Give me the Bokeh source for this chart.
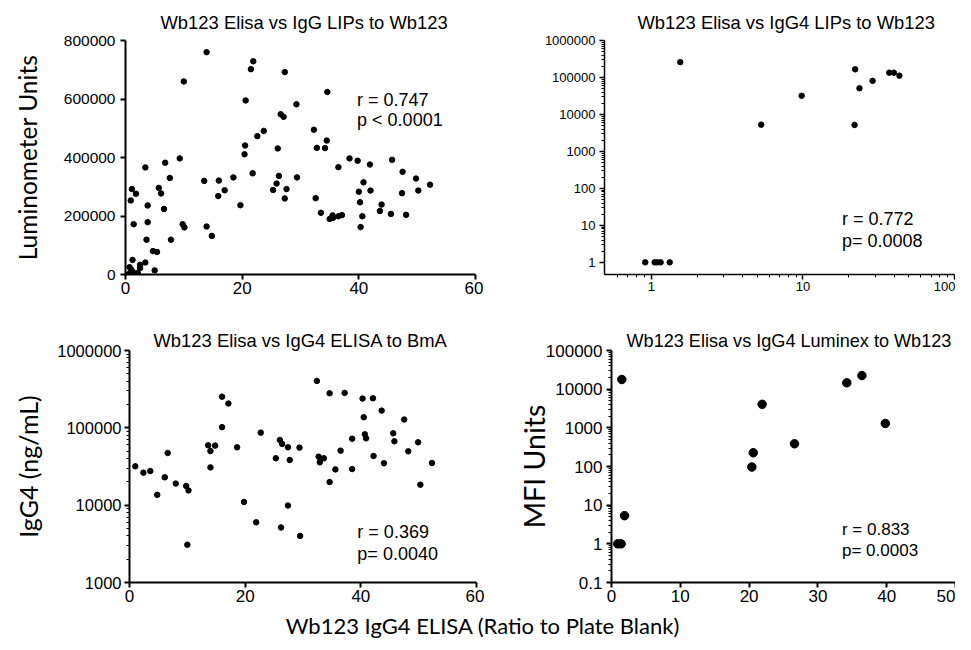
from bokeh.plotting import figure
from bokeh.models import (Range1d, FixedTicker, BasicTickFormatter, CustomJSTickFormatter,
                          Label, Title, Div)
from bokeh.layouts import column, row
from bokeh.embed import file_html
from bokeh.resources import INLINE

# ---------------- data ----------------
# Panel A: Wb123 Elisa vs IgG LIPs to Wb123 (linear)
a_x = [13.9, 21.9, 21.5, 27.3, 10.0, 34.6, 20.6, 29.3, 26.6, 27.1,
       32.3, 23.7, 22.6, 34.5, 20.5, 26.1, 32.8, 34.2, 20.4, 9.3,
       38.4, 39.8, 45.7, 3.4, 6.8, 36.5, 41.9, 7.6, 21.8, 29.4,
       26.3, 18.5, 13.5, 16.0, 47.5, 49.8, 25.9, 5.7, 1.1, 1.8,
       6.1, 0.9, 3.8, 6.6, 17.0, 15.9, 25.3, 27.6, 27.3, 19.7,
       32.6, 33.5, 35.0, 35.5, 35.6, 36.5, 37.1, 40.0, 40.2, 40.8,
       40.6, 40.3, 42.0, 43.9, 43.6, 45.5, 47.4, 48.1, 50.2, 52.2,
       1.4, 3.8, 9.8, 10.1, 13.9, 14.8, 3.6, 7.8, 4.7, 5.4,
       1.2, 3.4, 5.0, 2.5, 2.5, 0.7, 1.0, 1.3, 0.6, 1.6,
       2.1, 1.0, 1.9]
a_y = [760000, 729000, 702000, 692000, 660000, 624000, 595000, 582000, 548000, 539000,
       495000, 491000, 473000, 458000, 441000, 431000, 433000, 432000, 411000, 397000,
       397000, 389000, 392000, 366000, 382000, 367000, 376000, 330000, 346000, 332000,
       337000, 332000, 320000, 321000, 351000, 328000, 311000, 296000, 292000, 276000,
       277000, 253000, 236000, 224000, 288000, 268000, 289000, 292000, 260000, 237000,
       261000, 211000, 190000, 202000, 194000, 199000, 203000, 283000, 247000, 315000,
       199000, 162000, 287000, 239000, 217000, 207000, 278000, 204000, 287000, 307000,
       172000, 179000, 172000, 161000, 164000, 132000, 119000, 119000, 80000, 77000,
       50000, 41000, 14000, 33000, 22000, 25000, 16000, 8000, 2000, 2000,
       5000, 0, 0]

# Panel B: Wb123 Elisa vs IgG4 LIPs to Wb123 (log-log)
b_x = [0.91, 1.05, 1.09, 1.15, 1.32, 1.55, 5.3, 9.8, 22.1, 21.9, 23.6, 28.8, 37.1, 39.8, 43.3]
b_y = [1, 1, 1, 1, 1, 260000, 5300, 32000, 166000, 5200, 51000, 81000, 135000, 135000, 112000]

# Panel C: Wb123 Elisa vs IgG4 ELISA to BmA (log y)
c_x = [1.0, 2.4, 3.6, 4.8, 6.1, 6.6, 8.0, 9.8, 10.2, 10.0,
       13.6, 14.8, 14.0, 14.0, 16.0, 17.1, 16.0, 18.6, 19.8, 22.7,
       21.9, 25.3, 26.0, 26.4, 27.4, 27.7, 27.4, 26.2, 29.4, 29.5,
       32.4, 32.7, 32.9, 33.6, 34.6, 34.6, 35.6, 36.5, 37.2, 38.5,
       38.5, 40.3, 40.5, 40.7, 40.9, 42.2, 42.1, 43.6, 44.0, 45.6,
       45.8, 47.5, 48.2, 49.9, 50.3, 52.3]
c_y = [31800, 26300, 27600, 13600, 22900, 47300, 19000, 17700, 15500, 3080,
       59400, 58900, 50100, 30800, 253000, 206000, 102000, 56000, 11000, 86700,
       6000, 40400, 69600, 61800, 56000, 38400, 9900, 5150, 55500, 4000,
       404000, 42400, 35800, 40400, 280000, 19900, 29000, 50700, 283000, 72400,
       29300, 239000, 137000, 82400, 73100, 43300, 241000, 167000, 34800, 85000,
       67000, 128000, 49700, 65000, 18400, 35100]

# Panel D: Wb123 Elisa vs IgG4 Luminex to Wb123 (log y)
d_x = [0.9, 1.4, 1.5, 1.9, 20.4, 20.6, 21.9, 26.6, 34.2, 36.4, 39.8]
d_y = [1, 1, 17800, 5.35, 97, 227, 4050, 387, 14600, 22500, 1300]

titles = ["Wb123 Elisa vs IgG LIPs to Wb123",
          "Wb123 Elisa vs IgG4 LIPs to Wb123",
          "Wb123 Elisa vs IgG4 ELISA to BmA",
          "Wb123 Elisa vs IgG4 Luminex to Wb123"]
stats_r = ["r = 0.747", "r = 0.772", "r = 0.369", "r = 0.833"]
stats_p = ["p < 0.0001", "p= 0.0008", "p= 0.0040", "p= 0.0003"]
ylabels = ["Luminometer Units", "IgG4 (ng/mL)", "MFI Units"]
xlabel = "Wb123 IgG4 ELISA (Ratio to Plate Blank)"

lin_ticks_a_y = [0, 200000, 400000, 600000, 800000]
lin_ticks_60 = [0, 20, 40, 60]
lin_ticks_50 = [0, 10, 20, 30, 40, 50]
log_ticks_b_x = [1, 10, 100]
log_ticks_b_y = [1, 10, 100, 1000, 10000, 100000, 1000000]
log_ticks_c_y = [1000, 10000, 100000, 1000000]
log_ticks_d_y = [0.1, 1, 10, 100, 1000, 10000, 100000]

NUM_FONT = "Liberation Sans"
LAB_FONT = "Lato"


def minor_log(lo_exp, hi_exp):
    out = []
    for e in range(lo_exp, hi_exp):
        for k in range(2, 10):
            out.append(k * 10.0 ** e)
    return out


def make_fig(w, h, bl, br, bt, bb, xr, yr, xt="linear", yt="linear", lw=2.0):
    p = figure(width=w, height=h, x_range=xr, y_range=yr, x_axis_type=xt, y_axis_type=yt,
               output_backend="svg", toolbar_location=None, title=None,
               min_border_left=bl, min_border_right=br, min_border_top=bt, min_border_bottom=bb)
    p.outline_line_color = None
    p.grid.visible = False
    p.background_fill_color = "white"
    p.border_fill_color = "white"
    for ax in (p.xaxis[0], p.yaxis[0]):
        ax.axis_line_color = "black"
        ax.axis_line_width = lw
        ax.major_tick_line_color = "black"
        ax.major_tick_line_width = lw
        ax.major_tick_in = 0
        ax.major_tick_out = 5
        ax.minor_tick_line_color = "black"
        ax.minor_tick_line_width = 1
        ax.minor_tick_in = 0
        ax.minor_tick_out = 3
        ax.major_label_text_font = NUM_FONT
        ax.major_label_text_font_size = "16.5px"
        ax.major_label_text_color = "black"
        ax.major_label_standoff = 4
        ax.axis_label_text_font = LAB_FONT
        ax.axis_label_text_font_style = "normal"
        ax.axis_label_text_color = "black"
    p.xaxis.major_label_standoff = 2
    p.xaxis.major_label_text_font_size = "17px"
    return p


def add_title(p, text, offset, standoff, size="18.4px"):
    p.add_layout(Title(text=text, align="left", offset=offset, standoff=standoff,
                       vertical_align="bottom", text_font=NUM_FONT, text_font_size=size,
                       text_font_style="normal", text_color="black"), "above")


def add_text(p, x, y, text, size):
    p.add_layout(Label(x=x, y=y, text=text, text_align="left", text_baseline="alphabetic",
                       text_font=NUM_FONT, text_font_size=size, text_color="black"))


log_fmt = CustomJSTickFormatter(code="return tick < 1 ? tick.toString() : tick.toFixed(0);")

# ---------------- panel A ----------------
p1 = make_fig(483, 310, 125, 8, 40, 36, Range1d(0, 60), Range1d(0, 800000))
p1.xaxis.ticker = FixedTicker(ticks=lin_ticks_60, minor_ticks=[])
p1.yaxis.ticker = FixedTicker(ticks=lin_ticks_a_y, minor_ticks=[])
p1.yaxis.formatter = BasicTickFormatter(use_scientific=False)
p1.yaxis.major_label_text_font_size = "15.5px"
p1.yaxis.major_label_standoff = 5
p1.yaxis.axis_label = ylabels[0]
p1.yaxis.axis_label_text_font_size = "24.5px"
p1.yaxis.axis_label_standoff = 19
p1.scatter(a_x, a_y, size=5.5, color="black")
add_title(p1, titles[0], 35, 16)
add_text(p1, 39.7, 598000, stats_r[0], "18px")
add_text(p1, 39.7, 527000, stats_p[0], "18px")

# ---------------- panel B ----------------
p2 = make_fig(472, 310, 121, 1, 40, 32, Range1d(0.49, 100), Range1d(0.47, 1000000),
              xt="log", yt="log", lw=1.5)
p2.xaxis.ticker = FixedTicker(ticks=log_ticks_b_x,
                              minor_ticks=[0.6, 0.7, 0.8, 0.9] + minor_log(0, 2))
p2.yaxis.ticker = FixedTicker(ticks=log_ticks_b_y, minor_ticks=minor_log(0, 6))
p2.xaxis.formatter = log_fmt
p2.yaxis.formatter = log_fmt
p2.xaxis.major_label_text_font_size = "13px"
p2.yaxis.major_label_text_font_size = "13px"
p2.scatter(b_x, b_y, size=5.5, color="black")
add_title(p2, titles[1], 33, 16)
add_text(p2, 18.1, 14.6, stats_r[1], "18px")
add_text(p2, 18.1, 3.9, stats_p[1], "18px")

# ---------------- panel C ----------------
p3 = make_fig(484, 298, 129, 8, 40, 26, Range1d(0, 60), Range1d(1000, 1000000), yt="log")
p3.xaxis.ticker = FixedTicker(ticks=lin_ticks_60, minor_ticks=[])
p3.yaxis.ticker = FixedTicker(ticks=log_ticks_c_y, minor_ticks=minor_log(3, 6))
p3.yaxis.formatter = log_fmt
p3.yaxis.major_label_standoff = 3
p3.yaxis.axis_label = ylabels[1]
p3.yaxis.axis_label_text_font_size = "25px"
p3.yaxis.axis_label_standoff = 11
p3.scatter(c_x, c_y, size=5.5, color="black")
add_title(p3, titles[2], 24, 0)
add_text(p3, 39.4, 4450, stats_r[2], "18px")
add_text(p3, 39.4, 2330, stats_p[2], "18px")

# ---------------- panel D ----------------
p4 = make_fig(471, 298, 127, 0, 39, 26, Range1d(0, 50), Range1d(0.1, 100000), yt="log")
p4.xaxis.ticker = FixedTicker(ticks=lin_ticks_50, minor_ticks=[])
p4.yaxis.ticker = FixedTicker(ticks=log_ticks_d_y, minor_ticks=minor_log(-1, 5))
p4.yaxis.formatter = log_fmt
p4.yaxis.major_label_text_font_size = "17px"
p4.yaxis.axis_label = ylabels[2]
p4.yaxis.axis_label_text_font_size = "28.5px"
p4.yaxis.axis_label_standoff = -8
p4.scatter(d_x, d_y, size=8.5, color="black")
add_title(p4, titles[3], 15, 0, "18.1px")
add_text(p4, 33.5, 2.35, stats_r[3], "17px")
add_text(p4, 33.5, 0.69, stats_p[3], "17px")

# ---------------- shared x label ----------------
xlab = Div(text=xlabel, width=955, height=26,
           styles={"font-family": LAB_FONT, "font-size": "22px", "line-height": "26px",
                   "text-align": "center", "color": "black", "white-space": "nowrap"})

layout = column(row(p1, p2), row(p3, p4), xlab)

open("out.html", "w").write(file_html(layout, INLINE))
